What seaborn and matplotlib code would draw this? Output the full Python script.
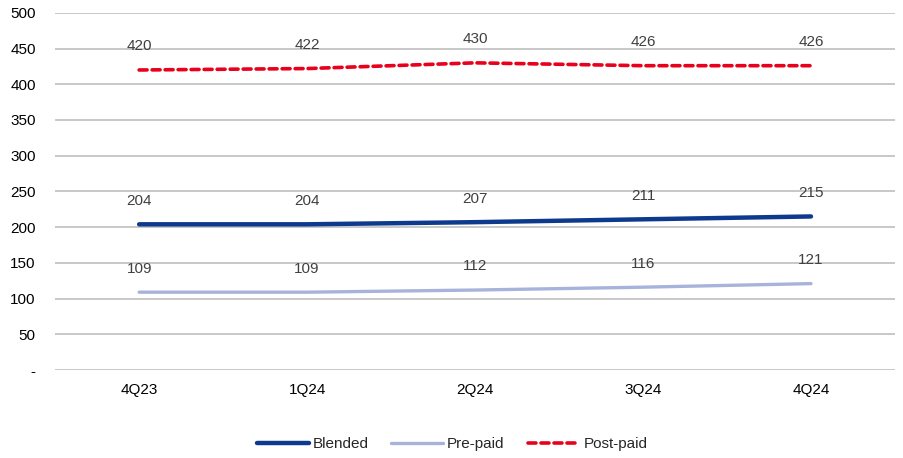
import matplotlib
matplotlib.use("Agg")
import matplotlib.pyplot as plt
import seaborn as sns
import pandas as pd

quarters = ["4Q23", "1Q24", "2Q24", "3Q24", "4Q24"]
blended = [204, 204, 207, 211, 215]
prepaid = [109, 109, 112, 116, 121]
postpaid = [420, 422, 430, 426, 426]

df = pd.DataFrame({
    "quarter": quarters * 3,
    "value": blended + prepaid + postpaid,
    "series": ["Blended"] * 5 + ["Pre-paid"] * 5 + ["Post-paid"] * 5,
})

sns.set_style("white")
plt.rcParams["font.family"] = ["Liberation Sans", "DejaVu Sans"]

fig = plt.figure(figsize=(9.04, 4.58), dpi=100)
ax = fig.add_axes([0.061, 0.192, 0.929, 0.78])

palette = {"Blended": "#0E3A8E", "Pre-paid": "#A7B3DB", "Post-paid": "#E8001C"}
widths = {"Blended": 3.2, "Pre-paid": 2.4, "Post-paid": 2.6}
styles = {"Blended": "-", "Pre-paid": "-", "Post-paid": (0, (2.2, 1.4))}

for name in ["Blended", "Pre-paid", "Post-paid"]:
    sub = df[df["series"] == name]
    sns.lineplot(data=sub, x="quarter", y="value", ax=ax, color=palette[name],
                 lw=widths[name], linestyle=styles[name], label=name,
                 sort=False, solid_capstyle="round", dash_capstyle="round")
    for i, v in enumerate(sub["value"]):
        ax.annotate(f"{v}", (i, v), xytext=(0, 17), textcoords="offset points",
                    ha="center", va="center", fontsize=11, color="#404040")

ax.set_xlim(-0.5, 4.5)
ax.set_ylim(0, 500)
ax.set_yticks(range(0, 501, 50))
ax.set_yticklabels(["-"] + [str(v) for v in range(50, 501, 50)])
ax.grid(axis="y", color="#BFBFBF", lw=1.2)
ax.set_axisbelow(True)
for s in ax.spines.values():
    s.set_visible(False)
ax.set_xlabel("")
ax.set_ylabel("")
ax.tick_params(axis="both", length=0, labelsize=11, colors="#000000")
ax.tick_params(axis="y", pad=14)
ax.tick_params(axis="x", pad=9)

handles, labels = ax.get_legend_handles_labels()
ax.get_legend().remove()
fig.legend(handles, labels, loc="center", bbox_to_anchor=(0.5, 0.03), ncol=3,
           frameon=False, fontsize=11, handlelength=3.4, columnspacing=1.5,
           handletextpad=0.25)

fig.savefig("out.png", dpi=100)
